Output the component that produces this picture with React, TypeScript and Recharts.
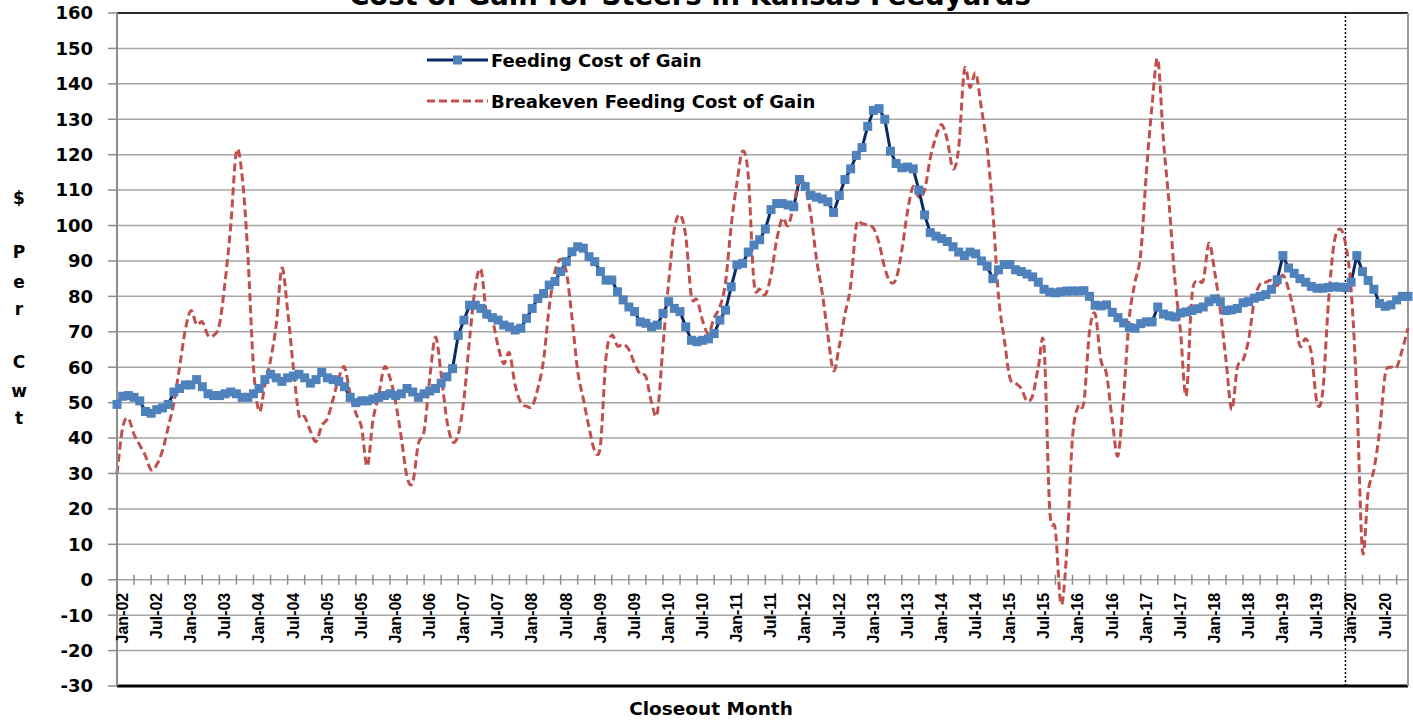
import React from 'react';
import { LineChart, Line, XAxis, YAxis, CartesianGrid, ReferenceLine, Legend } from 'recharts';

// ---------- data ----------
const MONTH_NAMES = ['Jan', 'Feb', 'Mar', 'Apr', 'May', 'Jun', 'Jul', 'Aug', 'Sep', 'Oct', 'Nov', 'Dec'];
const YEARS = ['02', '03', '04', '05', '06', '07', '08', '09', '10', '11', '12', '13', '14', '15', '16', '17', '18', '19', '20'];
const months: string[] = YEARS.flatMap((y) => MONTH_NAMES.map((m) => `${m}-${y}`));

const feedingCost = [
  49.5, 51.8, 52, 51.5, 50.5, 47.5, 47, 48, 48.5, 49.5, 53, 54,
  55, 55, 56.5, 54.5, 52.5, 52, 52, 52.5, 53, 52.5, 51.5, 51.5,
  52.5, 54, 56.5, 58, 57, 56, 57, 57.5, 58, 57, 55.5, 56.5,
  58.5, 57, 56.5, 56, 54.5, 51.5, 50, 50.5, 50.5, 51, 51.5, 52,
  52.5, 52, 52.5, 54, 53, 51.5, 52.5, 53.3, 54, 55.5, 57.3, 59.6,
  69, 73.3, 77.5, 77.5, 76.6, 75, 74, 73.3, 71.9, 71.4, 70.5, 71,
  73.8, 76.6, 79.4, 80.8, 83.2, 84.2, 87, 89.8, 92.6, 94, 93.6, 91.2,
  89.8, 87, 84.6, 84.6, 81.3, 79, 77, 75.7, 72.8, 72.4, 71.4, 71.9,
  75.2, 78.5, 76.6, 75.7, 71.4, 67.6, 67.2, 67.6, 68, 69.5, 73.3, 76.1,
  82.7, 88.9, 89.3, 92.5, 94.5, 96, 99, 104.5, 106.2, 106.2, 105.8, 105.3,
  113, 111, 108.5, 108, 107.5, 106.7, 103.7, 108.5, 113, 116, 119.8, 122,
  128, 132.5, 133, 130, 121, 117.5, 116.3, 116.5, 116, 110, 103, 98,
  97, 96.3, 95.5, 94, 92.5, 91.5, 92.5, 92, 90, 88.5, 85, 87.5,
  89, 89, 87.5, 87, 86.3, 85.5, 84, 82, 81.2, 81, 81.3, 81.5,
  81.5, 81.5, 81.6, 80, 77.5, 77.3, 77.6, 75.5, 74, 72.5, 71.2, 71,
  72.3, 72.8, 72.8, 77, 75, 74.5, 74.2, 75.3, 75.6, 76, 76.5, 77,
  78.5, 79.3, 78.5, 76, 76.2, 76.6, 78.2, 78.5, 79.5, 80, 80.5, 82,
  84.7, 91.5, 88, 86.5, 85, 84, 82.8, 82.3, 82.3, 82.5, 82.7, 82.6,
  82.5, 84, 91.5, 87, 84.5, 82, 78, 77.2, 77.6, 79, 80, 80,
];

const breakevenCost = [
  30, 43, 45.5, 41, 38, 35, 31, 32.5, 36.5, 43, 50, 60,
  70.5, 76, 72, 72.8, 69, 69, 72, 84, 100, 121, 114, 92,
  60, 47.5, 55, 62, 72, 88, 76, 60, 46.5, 46, 42, 39,
  43.5, 45.5, 51, 57, 60, 52.5, 47, 43, 32, 45, 52, 60,
  57, 50, 40, 29, 27.5, 38.5, 42, 57, 68.5, 58, 45, 39,
  41, 51, 68, 82.7, 87.5, 75, 73.3, 66, 61, 64, 55, 50,
  49, 49, 54, 62, 77, 87, 90.5, 87, 74, 59, 51, 43,
  36.5, 38, 63, 69, 66, 66.5, 65, 61, 58, 57.3, 50, 47,
  66, 84, 99, 103, 97, 80, 79, 73, 69.5, 74, 77, 84,
  100, 112, 121, 114, 84, 82, 80.5, 86, 96, 102, 100, 106,
  113, 111, 103, 90.5, 81, 69, 59, 66, 75, 83, 100, 100.5,
  100, 99.3, 95, 88, 84, 85, 93, 104, 111, 108, 110, 119,
  125, 128.5, 124, 116, 122, 144, 139, 143, 133, 122, 104, 80,
  68, 57, 55.5, 54, 50.5, 52, 60, 66, 20, 14, -7, 8,
  40, 49, 50, 70, 75, 62, 58, 45, 35, 52, 74, 84,
  92, 115, 134, 147, 124, 106, 85, 70, 52, 80, 84.5, 84.5,
  95, 87, 76, 62, 48, 60, 62, 68, 79, 83.5, 84, 84.5,
  83, 86, 82, 75, 66, 68, 64, 50, 53, 78, 95, 99,
  95, 82, 52, 8, 25, 31, 42, 58, 60, 60, 65, 71,
];

const yTicks = [-30, -20, -10, 0, 10, 20, 30, 40, 50, 60, 70, 80, 90, 100, 110, 120, 130, 140, 150, 160];
const xTickMonths = months.filter((_, i) => i % 3 === 0);
const labeledMonthPrefixes = ['Jan', 'Jul'];
const markerMonth = 'Jan-20';
const lastMonth = months[months.length - 1];

const TITLE = 'Cost of Gain for Steers in Kansas Feedyards';
const SERIES_FEEDING = 'Feeding Cost of Gain';
const SERIES_BREAKEVEN = 'Breakeven Feeding Cost of Gain';
const Y_LABEL_GROUPS = [['$'], ['P', 'e', 'r'], ['C', 'w', 't']];
const X_LABEL = 'Closeout Month';

const data = months.map((m, i) => ({ month: m, feeding: feedingCost[i], breakeven: breakevenCost[i] }));

// ---------- layout / style ----------
const W = 1413;
const H = 725;
const M_TOP = 13;
const M_RIGHT = 5;
const X_AXIS_H = 1;
const M_BOTTOM = 39 - X_AXIS_H;
const Y_AXIS_W = 117;
const PLOT_H = H - M_TOP - M_BOTTOM - X_AXIS_H;
const Y_MIN = -30;
const Y_MAX = 160;

const BLUE_LINE = '#0a2a66';
const BLUE_MARK = '#4f81bd';
const RED = '#c0504d';
const GRID = '#a6a6a6';
const BOLD_SANS = 'DejaVu Sans, Verdana, sans-serif';

// Catmull-Rom style smoothing similar to spreadsheet "smoothed line"
const smoothCurve: any = (context: any) => {
  let pts: number[][] = [];
  return {
    areaStart() {},
    areaEnd() {},
    lineStart() {
      pts = [];
    },
    lineEnd() {
      const n = pts.length;
      if (!n) return;
      context.moveTo(pts[0][0], pts[0][1]);
      for (let i = 0; i < n - 1; i++) {
        const p0 = pts[i - 1] || pts[i];
        const p1 = pts[i];
        const p2 = pts[i + 1];
        const p3 = pts[i + 2] || p2;
        context.bezierCurveTo(
          p1[0] + (p2[0] - p0[0]) / 6,
          p1[1] + (p2[1] - p0[1]) / 6,
          p2[0] - (p3[0] - p1[0]) / 6,
          p2[1] - (p3[1] - p1[1]) / 6,
          p2[0],
          p2[1]
        );
      }
    },
    point(x: number, y: number) {
      pts.push([+x, +y]);
    },
  };
};

const XTick = (props: any) => {
  const { x, y, payload } = props;
  const zeroY = y - (PLOT_H * (0 - Y_MIN)) / (Y_MAX - Y_MIN);
  const label: string = String(payload.value);
  const show = labeledMonthPrefixes.some((p) => label.startsWith(p));
  return (
    <g>
      <line x1={x} x2={x} y1={zeroY - 5} y2={zeroY + 5} stroke="#8c8c8c" strokeWidth={1.5} />
      {show && (
        <text
          transform={`translate(${x + 11},${zeroY + 13}) rotate(-90)`}
          textAnchor="end"
          fontFamily="Liberation Sans, Arial, sans-serif"
          fontWeight="bold"
          fontSize={16}
          fill="#000"
        >
          {label}
        </text>
      )}
    </g>
  );
};

const SquareDot = (props: any) => {
  const { cx, cy, index } = props;
  if (cx == null || cy == null) return <g key={`d${index}`} />;
  return <rect key={`d${index}`} x={cx - 4.5} y={cy - 4.5} width={9} height={9} fill={BLUE_MARK} />;
};

const LegendContent = () => (
  <div style={{ position: 'relative', width: 440, height: 80, fontFamily: BOLD_SANS, fontWeight: 'bold', fontSize: 18, color: '#000' }}>
    <div style={{ position: 'absolute', left: 0, top: 0, height: 30, display: 'flex', alignItems: 'center', whiteSpace: 'nowrap' }}>
      <svg width={66} height={14} style={{ marginRight: 0 }}>
        <line x1={2} x2={63} y1={7} y2={7} stroke={BLUE_LINE} strokeWidth={3} />
        <rect x={28} y={2.5} width={9} height={9} fill={BLUE_MARK} />
      </svg>
      <span>{SERIES_FEEDING}</span>
    </div>
    <div style={{ position: 'absolute', left: 0, top: 41, height: 30, display: 'flex', alignItems: 'center', whiteSpace: 'nowrap' }}>
      <svg width={66} height={14} style={{ marginRight: 0 }}>
        <line x1={2} x2={63} y1={7} y2={7} stroke={RED} strokeWidth={3} strokeDasharray="8 4" />
      </svg>
      <span>{SERIES_BREAKEVEN}</span>
    </div>
  </div>
);

export default function App() {
  const yLabelPos = [
    [{ y: 204 }],
    [{ y: 258 }, { y: 288 }, { y: 315 }],
    [{ y: 368 }, { y: 397 }, { y: 424 }],
  ];
  return (
    <div style={{ position: 'absolute', left: 0, top: 0, width: W, height: H, background: '#fff', overflow: 'hidden' }}>
      <LineChart
        width={W}
        height={H}
        data={data}
        margin={{ top: M_TOP, right: M_RIGHT, bottom: M_BOTTOM, left: 0 }}
      >
        <CartesianGrid vertical={false} stroke={GRID} strokeWidth={1.5} />
        <XAxis
          dataKey="month"
          ticks={xTickMonths}
          interval={0}
          height={X_AXIS_H}
          tickSize={0}
          tickMargin={0}
          axisLine={false}
          tickLine={false}
          tick={<XTick />}
        />
        <YAxis
          type="number"
          domain={[Y_MIN, Y_MAX]}
          ticks={yTicks}
          interval={0}
          width={Y_AXIS_W}
          tickSize={9}
          tickMargin={15}
          axisLine={{ stroke: '#8c8c8c', strokeWidth: 2 }}
          tickLine={{ stroke: '#8c8c8c', strokeWidth: 1.5 }}
          tick={{ fill: '#000', fontFamily: BOLD_SANS, fontWeight: 'bold', fontSize: 18 }}
        />
        <ReferenceLine y={Y_MAX} stroke="#2b2b2b" strokeWidth={2} />
        <ReferenceLine y={Y_MIN} stroke="#000" strokeWidth={3} />
        <ReferenceLine x={lastMonth} stroke="#9a9a9a" strokeWidth={2} />
        <ReferenceLine x={markerMonth} stroke="#000" strokeWidth={1.5} strokeDasharray="2 2" />
        <Legend
          layout="horizontal"
          verticalAlign="middle"
          align="center"
          content={<LegendContent />}
          wrapperStyle={{ left: 425, top: 45, width: 440, height: 80 }}
        />
        <Line
          name={SERIES_FEEDING}
          dataKey="feeding"
          type="linear"
          stroke={BLUE_LINE}
          strokeWidth={3}
          dot={SquareDot}
          activeDot={false}
          isAnimationActive={false}
        />
        <Line
          name={SERIES_BREAKEVEN}
          dataKey="breakeven"
          type={smoothCurve}
          stroke={RED}
          strokeWidth={3}
          strokeDasharray="8 4"
          dot={false}
          activeDot={false}
          isAnimationActive={false}
        />
      </LineChart>
      <svg width={W} height={H} style={{ position: 'absolute', left: 0, top: 0, pointerEvents: 'none' }}>
        <text x={690} y={5} textAnchor="middle" fontFamily={BOLD_SANS} fontWeight="bold" fontSize={27.5} fill="#000">
          {TITLE}
        </text>
        {yLabelPos.map((group, gi) =>
          group.map((c, ci) => (
            <text key={`${gi}-${ci}`} x={19} y={c.y} textAnchor="middle" fontFamily={BOLD_SANS} fontWeight="bold" fontSize={17} fill="#000">
              {Y_LABEL_GROUPS[gi][ci]}
            </text>
          ))
        )}
        <text x={711} y={715} textAnchor="middle" fontFamily={BOLD_SANS} fontWeight="bold" fontSize={18.5} fill="#000">
          {X_LABEL}
        </text>
      </svg>
    </div>
  );
}
